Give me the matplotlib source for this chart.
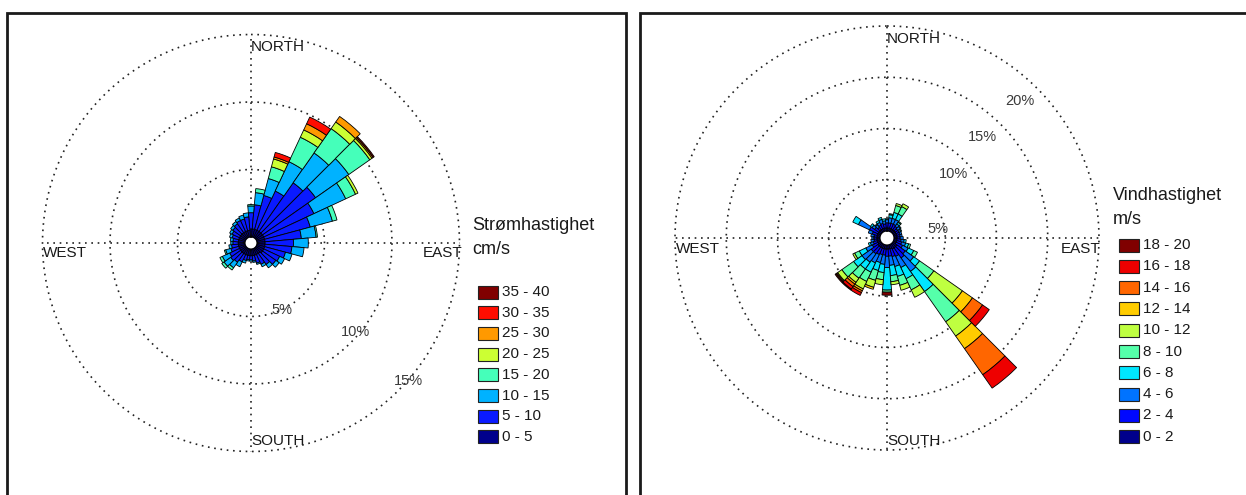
import numpy as np
import matplotlib.pyplot as plt
from matplotlib.patches import Rectangle

plt.rcParams['font.family'] = ['Liberation Sans', 'DejaVu Sans']

W, H = 1246, 495
fig = plt.figure(figsize=(W / 100, H / 100), dpi=100)


def fx(x):
    return x / W


def fy(y):
    return 1 - y / H


# direction sectors (degrees, clockwise from north), 10 degree bins
directions = np.arange(0, 360, 10)

# ---- current rose: frequency (%) per speed class and direction ----
current_labels = ['0 - 5', '5 - 10', '10 - 15', '15 - 20', '20 - 25',
                  '25 - 30', '30 - 35', '35 - 40']
cur_0_5 = [.6] * 14 + [.5] * 22
cur_5_10 = [1.2, 1.8, 2.6, 3.2, 4.4, 4.8, 4.1, 3.5, 2.7, 2.1, 2.0, 1.6, 1.3, 1.2,
            1.0, .8, .6, .4, .3, .3, .4, .6, .8, .9, .8, .6, .5, .4, .4, .5,
            .6, .7, .8, .9, .9, 1.0]
cur_10_15 = [.5, .9, 1.3, 2.4, 2.7, 3.0, 2.6, 1.7, 1.1, 1.1, .9, .5, .4, .3,
             .3, .2, .1, .1, .1, .1, .2, .4, .5, .6, .6, .4, .2, .15, .2, .2,
             .2, .2, .2, .2, .3, .3]
cur_15_20 = [.1, .3, .9, 2.0, 2.2, 1.9, .8, .35, .1, 0, 0, 0, 0, 0,
             0, 0, 0, 0, 0, 0, 0, 0, .2, .2, .2, .1, 0, 0, 0, 0,
             0, 0, 0, 0, 0, 0]
cur_20_25 = [0, 0, .6, .6, .6, .2, .2] + [0] * 29
cur_25_30 = [0, 0, .15, .5, .5, .1] + [0] * 30
cur_30_35 = [0, 0, .35, .55] + [0] * 32
cur_35_40 = [0, 0, 0, 0, 0, .1] + [0] * 30
current_classes = [cur_0_5, cur_5_10, cur_10_15, cur_15_20, cur_20_25,
                   cur_25_30, cur_30_35, cur_35_40]
current_colors = ['#00008c', '#0a1aff', '#00b2ff', '#45ffba', '#ccff33',
                  '#ff9900', '#ff0d00', '#800000']

# ---- wind rose: frequency (%) per speed class and direction ----
wind_labels = ['0 - 2', '2 - 4', '4 - 6', '6 - 8', '8 - 10', '10 - 12',
               '12 - 14', '14 - 16', '16 - 18', '18 - 20']
wind_0_2 = [.3] * 13 + [.5, .5, .5, .4, .4, .4, .4, .4, .4, .4, .4] + [.3] * 12
wind_2_4 = [.5, .5, .5, .5, .4, .3, .3, .3, .3, .3, .4, .5, .7, 1.0, 1.2, .8,
            .8, .7, .7, .6, .6, .7, .8, .8, .6, .4, .3, .3, .3, .5, .9, .5,
            .3, .4, .5, .4]
wind_4_6 = [.3, .5, .5, .5, .3, .3, .2, .2, .2, .3, .3, .4, .6, 1.0, 1.6, 1.2,
            1.0, .9, 1.1, .9, .8, .9, 1.0, 1.1, .7, .3, .3, .2, .3, .4, 1.2, .3,
            .3, .3, .4, .3]
wind_6_8 = [.1, .3, .6, .6, .2, .1, .1, 0, 0, 0, .2, .3, .6, .7, 2.4, 1.2,
            1.0, 1.0, 2.2, .8, .8, 1.0, .8, 1.0, .7, .2, 0, 0, 0, 0, .6, .2,
            .1, .2, .2, .2]
wind_8_10 = [0, .1, .7, .8, .1, 0, 0, 0, 0, 0, 0, .2, .4, 1.7, 3.6, 1.2,
             .9, .6, .2, .7, 1.0, 1.0, 1.1, 1.4, .5, 0, 0, 0, 0, 0, 0, 0,
             0, 0, 0, 0]
wind_10_12 = [0, 0, .2, .3, 0, 0, 0, 0, 0, 0, 0, 0, 0, 3.4, 1.7, .8,
              .5, .3, 0, .5, .7, .8, .5, .5, .2, 0, 0, 0, 0, 0, 0, 0,
              0, 0, 0, 0]
wind_12_14 = [0] * 13 + [1.2, 1.5] + [0] * 5 + [.2, .2, .2, .1] + [0] * 12
wind_14_16 = [0] * 13 + [1.2, 3.1] + [0] * 6 + [.2, .3, .1] + [0] * 12
wind_16_18 = [0] * 13 + [.8, 1.6] + [0] * 6 + [.3, .3, .1] + [0] * 12
wind_18_20 = [0] * 18 + [.3] + [0] * 3 + [.1] + [0] * 13
wind_classes = [wind_0_2, wind_2_4, wind_4_6, wind_6_8, wind_8_10, wind_10_12,
                wind_12_14, wind_14_16, wind_16_18, wind_18_20]
wind_colors = ['#00008c', '#0008ff', '#0073ff', '#00e6ff', '#55ffaa',
               '#bfff40', '#ffcc00', '#ff6600', '#ee0000', '#800000']

TEXT = '#1a1a1a'
PCT = '#3a3a3a'


def draw_rose(cx, cy, px_per_pct, hole_px, rmax, rings, classes, colors):
    R = hole_px + px_per_pct * rmax
    ax = fig.add_axes([fx(cx - R), fy(cy + R), 2 * R / W, 2 * R / H],
                      projection='polar')
    ax.set_theta_zero_location('N')
    ax.set_theta_direction(-1)
    ax.set_ylim(0, rmax)
    ax.set_rorigin(-hole_px / px_per_pct)
    ax.set_xticks([])
    ax.set_yticks([])
    ax.grid(False)
    ax.spines['polar'].set_visible(False)
    ax.patch.set_visible(False)

    dots = dict(ls=(0, (1, 2.8)), color='#222222', lw=1.2, zorder=1, clip_on=False)
    th = np.linspace(0, 2 * np.pi, 721)
    for r in rings:
        ax.plot(th, np.full_like(th, r), **dots)
    for a in (0, 90, 180, 270):
        ax.plot([np.deg2rad(a)] * 2, [0, rmax], **dots)

    theta = np.deg2rad(directions)
    bottom = np.zeros(len(directions))
    for vals, col in zip(classes, colors):
        vals = np.asarray(vals, dtype=float)
        m = vals > 0
        ax.bar(theta[m], vals[m], width=np.deg2rad(10), bottom=bottom[m],
               color=col, edgecolor='black', linewidth=0.6, zorder=3)
        bottom += vals


def legend(x_patch, y_top, step, title, unit, labels, colors, tx, ty):
    fig.text(fx(tx), fy(ty), title, fontsize=13, color=TEXT, ha='left', va='center')
    fig.text(fx(tx), fy(ty + 24), unit, fontsize=13, color=TEXT, ha='left', va='center')
    n = len(labels)
    for i in range(n):
        k = n - 1 - i
        yc = y_top + step * i
        fig.add_artist(Rectangle((fx(x_patch), fy(yc + 6.5)), 20 / W, 13 / H,
                                 transform=fig.transFigure, facecolor=colors[k],
                                 edgecolor='#222222', linewidth=0.8))
        fig.text(fx(x_patch + 24), fy(yc), labels[k], fontsize=11, color=TEXT,
                 ha='left', va='center')


# panel frames
fig.add_artist(Rectangle((fx(7), fy(520)), 619 / W, 507 / H, transform=fig.transFigure,
                         fill=False, edgecolor='#1a1a1a', linewidth=2))
fig.add_artist(Rectangle((fx(640), fy(520)), 640 / W, 507 / H, transform=fig.transFigure,
                         fill=False, edgecolor='#1a1a1a', linewidth=2))

# ---- left: current ----
draw_rose(251, 243, 13.5, 6, 15, [5, 10, 15], current_classes, current_colors)
fig.text(fx(251), fy(47), 'NORTH', fontsize=11, color=TEXT, ha='left', va='center')
fig.text(fx(251), fy(441), 'SOUTH', fontsize=11, color=TEXT, ha='left', va='center')
fig.text(fx(43), fy(253), 'WEST', fontsize=11, color=TEXT, ha='left', va='center')
fig.text(fx(462), fy(253), 'EAST', fontsize=11, color=TEXT, ha='right', va='center')
for s, (x, y) in zip(['5%', '10%', '15%'], [(282, 310), (355, 332), (408, 381)]):
    fig.text(fx(x), fy(y), s, fontsize=10.5, color=PCT, ha='center', va='center')
legend(478, 292, 20.7, 'Strømhastighet', 'cm/s', current_labels, current_colors, 472, 225)

# ---- right: wind ----
draw_rose(887, 238, 10.25, 7, 20, [5, 10, 15, 20], wind_classes, wind_colors)
fig.text(fx(887), fy(39), 'NORTH', fontsize=11, color=TEXT, ha='left', va='center')
fig.text(fx(887), fy(441), 'SOUTH', fontsize=11, color=TEXT, ha='left', va='center')
fig.text(fx(676), fy(249), 'WEST', fontsize=11, color=TEXT, ha='left', va='center')
fig.text(fx(1101), fy(249), 'EAST', fontsize=11, color=TEXT, ha='right', va='center')
for s, (x, y) in zip(['5%', '10%', '15%', '20%'],
                     [(938, 229), (953, 174), (982, 137), (1020, 101)]):
    fig.text(fx(x), fy(y), s, fontsize=10.5, color=PCT, ha='center', va='center')
legend(1119, 245, 21.3, 'Vindhastighet', 'm/s', wind_labels, wind_colors, 1113, 195)

fig.savefig('out.png', dpi=100)
